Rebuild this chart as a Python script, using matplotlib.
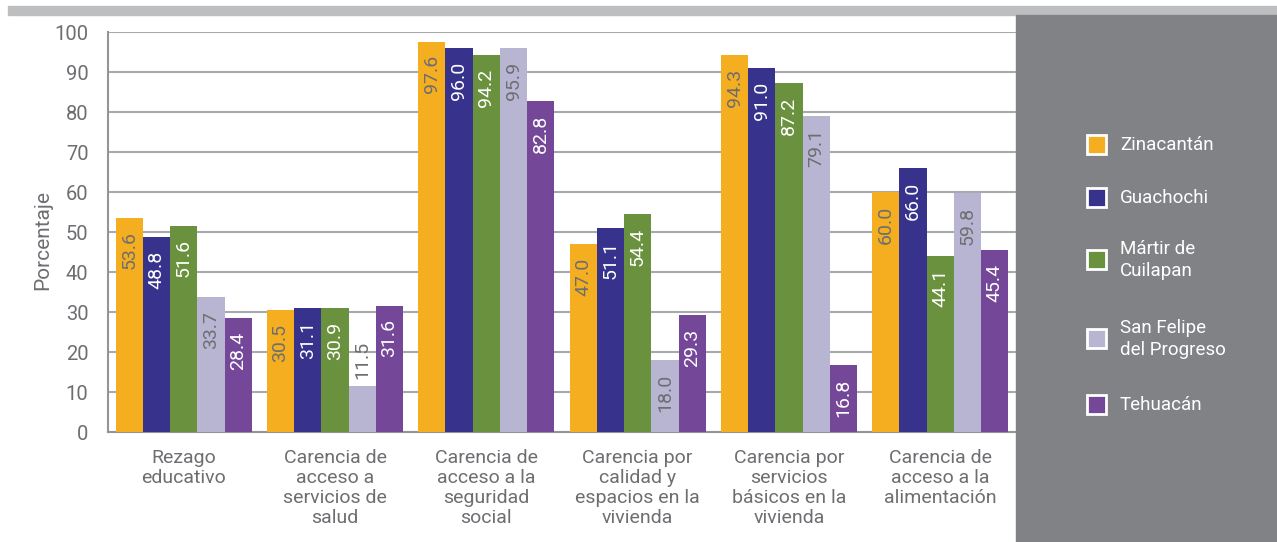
import numpy as np
import matplotlib.pyplot as plt
from matplotlib.patches import Rectangle

plt.rcParams['font.family'] = ['Roboto', 'DejaVu Sans']

categorias = ["Rezago\neducativo",
              "Carencia de\nacceso a\nservicios de\nsalud",
              "Carencia de\nacceso a la\nseguridad\nsocial",
              "Carencia por\ncalidad y\nespacios en la\nvivienda",
              "Carencia por\nservicios\nbásicos en la\nvivienda",
              "Carencia de\nacceso a la\nalimentación"]
municipios = ["Zinacantán", "Guachochi", "Mártir de\nCuilapan",
              "San Felipe\ndel Progreso", "Tehuacán"]
zinacantan = [53.6, 30.5, 97.6, 47.0, 94.3, 60.0]
guachochi = [48.8, 31.1, 96.0, 51.1, 91.0, 66.0]
martir = [51.6, 30.9, 94.2, 54.4, 87.2, 44.1]
san_felipe = [33.7, 11.5, 95.9, 18.0, 79.1, 59.8]
tehuacan = [28.4, 31.6, 82.8, 29.3, 16.8, 45.4]
series = [zinacantan, guachochi, martir, san_felipe, tehuacan]

colores = ["#F4AE1F", "#37338C", "#6A913D", "#B8B5D3", "#754799"]
color_texto = ["#6D6E71", "white", "white", "#6D6E71", "white"]
gris = "#6D6E71"

W, H = 1277, 542
fig = plt.figure(figsize=(W / 100, H / 100), dpi=100)

# banda superior y panel derecho
fig.patches.append(Rectangle((8 / W, 1 - 15 / H), 1 - 8 / W, 9 / H,
                             transform=fig.transFigure, color="#BCBEC0", zorder=0))
fig.patches.append(Rectangle((1016 / W, 0), (W - 1016) / W, 1 - 15 / H,
                             transform=fig.transFigure, color="#808285", zorder=0))

ax = fig.add_axes([108 / W, 1 - 432 / H, 908 / W, 400 / H])
ax.set_facecolor("none")

x = np.arange(len(categorias))
ancho = 0.18
for k, (vals, c, tc) in enumerate(zip(series, colores, color_texto)):
    pos = x + (k - 2) * ancho
    ax.bar(pos, vals, width=ancho, color=c, zorder=3)
    for p, v in zip(pos, vals):
        if v < 15:
            ax.text(p, v + 1.8, f"{v:.1f}", rotation=90, ha="center", va="bottom",
                    color=gris, fontsize=14, zorder=4)
        else:
            ax.text(p, v - 3.4, f"{v:.1f}", rotation=90, ha="center", va="top",
                    color=tc, fontsize=14, zorder=4)

ax.set_xlim(-0.5, len(categorias) - 0.5)
ax.set_ylim(0, 100)
ax.set_yticks(np.arange(0, 101, 10))
ax.yaxis.grid(True, color="#A7A9AC", linewidth=1.5, zorder=0)
ax.set_axisbelow(True)
ax.tick_params(axis="y", length=0, pad=14, labelsize=14.5, labelcolor=gris)
ax.set_xticks(x)
ax.set_xticklabels(categorias, fontsize=14, color=gris, linespacing=1.15, va="top")
ax.tick_params(axis="x", length=0, pad=12)
for s in ["top", "right"]:
    ax.spines[s].set_visible(False)
for s in ["left", "bottom"]:
    ax.spines[s].set_color("#939598")
    ax.spines[s].set_linewidth(1.5)
ax.set_ylabel("Porcentaje", fontsize=15, color=gris, labelpad=4)
ax.yaxis.set_label_coords(-56 / 908, 0.48)

# leyenda en el panel gris
centros = [145, 198, 260, 339, 405]
for nombre, c, yc in zip(municipios, colores, centros):
    fig.patches.append(Rectangle((1087 / W, 1 - (yc + 9) / H), 19 / W, 19 / H,
                                 transform=fig.transFigure, facecolor=c,
                                 edgecolor="white", linewidth=2, zorder=2))
    fig.text(1120 / W, 1 - yc / H, nombre, color="white", fontsize=13.5,
             va="center", ha="left", linespacing=1.3)

fig.savefig("out.png", dpi=100)
